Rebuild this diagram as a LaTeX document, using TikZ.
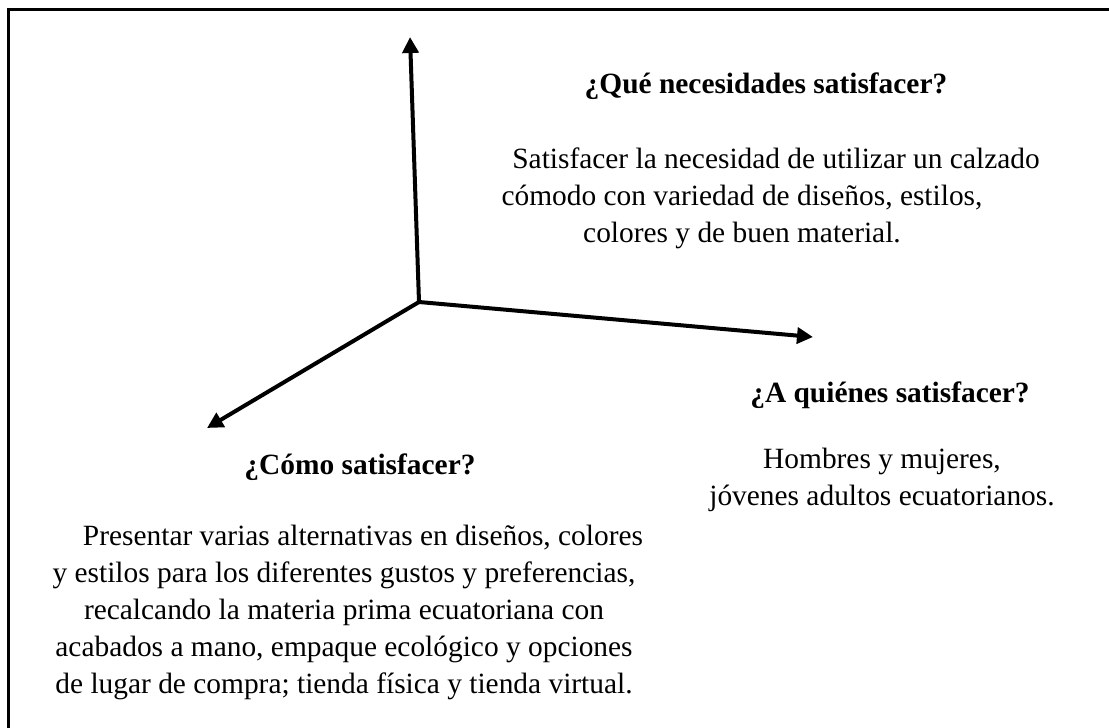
\documentclass[tikz,border=0pt]{standalone}
\usepackage{fontspec}
\setmainfont{Liberation Serif}
\usetikzlibrary{arrows.meta}
\tikzset{
    axisarrow/.style={-{Triangle[length=8pt, width=8pt]}, line width=2pt},
    headtext/.style={font=\fontsize{14.7}{18.5}\selectfont\bfseries, align=center, inner sep=0pt},
    bodytext/.style={font=\fontsize{14.7}{18.5}\selectfont, align=center, inner sep=0pt}
}
\begin{document}
\begin{tikzpicture}[x=0.5pt, y=-0.5pt]
    \useasboundingbox (0,0) rectangle (1109,728);
    % frame
    \draw[line width=1.5pt] (1109,9) -- (8,9) -- (8,728);

    % axes
    \coordinate (origin) at (419,302);
    \coordinate (uptip) at (410,37);
    \coordinate (righttip) at (813,337);
    \coordinate (lefttip) at (207,428);
    \draw[axisarrow] (origin) -- (uptip);
    \draw[axisarrow] (origin) -- (righttip);
    \draw[axisarrow] (origin) -- (lefttip);

    % what needs
    \node[headtext] (quehead) at (766,86) {¿Qué necesidades satisfacer?};
    \node[bodytext] (quebody) at (742,198)
        {\hspace*{34pt}Satisfacer la necesidad de utilizar un calzado\\
         cómodo con variedad de diseños, estilos,\\
         colores y de buen material.};

    % to whom
    \node[headtext] (quienhead) at (890,395) {¿A quiénes satisfacer?};
    \node[bodytext] (quienbody) at (882,480)
        {Hombres y mujeres,\\jóvenes adultos ecuatorianos.};

    % how
    \node[headtext] (comohead) at (360,467) {¿Cómo satisfacer?};
    \node[bodytext] (comobody) at (344,612)
        {\hspace*{19pt}Presentar varias alternativas en diseños, colores\\
         y estilos para los diferentes gustos y preferencias,\\
         recalcando la materia prima ecuatoriana con\\
         acabados a mano, empaque ecológico y opciones\\
         de lugar de compra; tienda física y tienda virtual.};
\end{tikzpicture}
\end{document}
